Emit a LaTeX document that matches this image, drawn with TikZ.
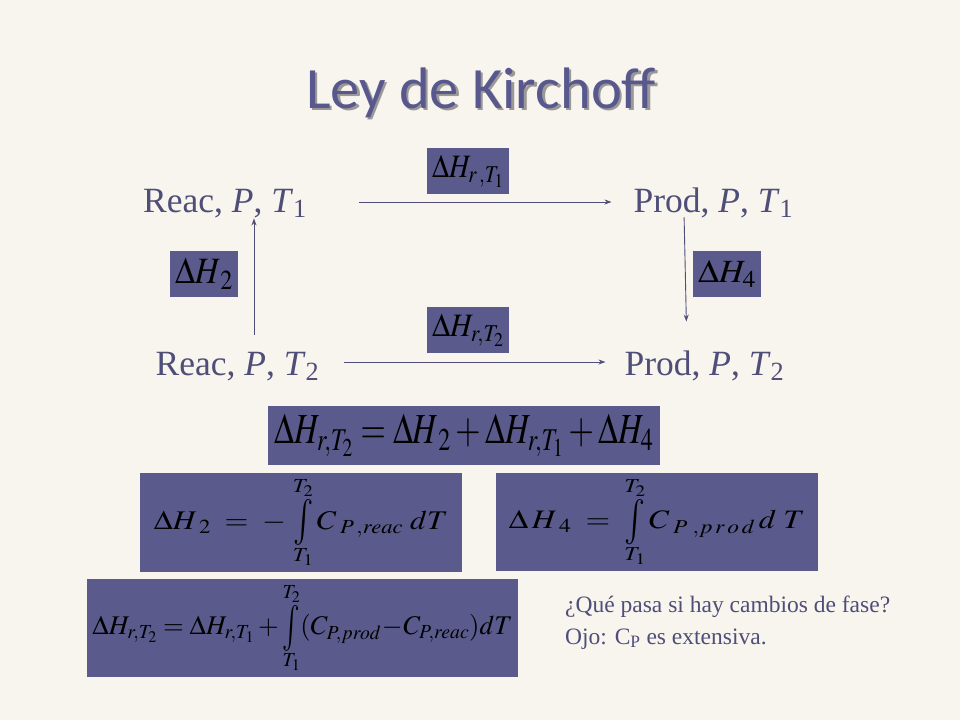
\documentclass[tikz,border=0pt]{standalone}
\usepackage{mathptmx}
\usepackage{fontspec}
\setmainfont{Liberation Serif}
\newfontfamily\titlefont{Carlito}
\usetikzlibrary{arrows.meta}
\definecolor{bg}{RGB}{248,244,238}
\definecolor{boxc}{RGB}{90,90,140}
\definecolor{ink}{RGB}{78,78,120}
\definecolor{titlec}{RGB}{88,88,142}
\newcommand\myint[2]{\mathop{\vcenter{\offinterlineskip\halign{\hfil##\hfil\cr$\scriptstyle #2$\cr\noalign{\kern3pt}\scalebox{1.1}[1.7]{$\textstyle\int$}\cr\noalign{\kern3pt}$\scriptstyle #1$\cr}}}}
\begin{document}
\begin{tikzpicture}[x=1pt,y=-1pt,
  lab/.style={inner sep=0pt, text=ink, font=\fontsize{35.5}{40}\selectfont, text height=23.5pt, text depth=0pt},
  eqbox/.style={fill=boxc, inner sep=0pt, text=black, font=\fontsize{30}{34}\selectfont},
  arr/.style={draw=ink, line width=0.9pt, -{Stealth[length=7pt,width=5pt]}},
  note/.style={inner sep=0pt, text=ink, font=\fontsize{23.5}{30}\selectfont, anchor=base west},
  ttl/.style={inner sep=0pt, anchor=base, font=\titlefont\fontsize{58.5}{64}\selectfont}]
\fill[bg] (0,0) rectangle (960,720);
\useasboundingbox (0,0) rectangle (960,720);
% title
\node[ttl, text=black!75, opacity=0.5] (titleshadow) at (483.5,110.5) {Ley de Kirchoff};
\node[ttl, text=titlec] (title) at (481,108) {Ley de Kirchoff};
% cycle labels
\node[lab] (r1) at (225,200.5) {Reac, \textit{P}, \textit{T}\textsubscript{1}};
\node[lab] (p1) at (713.5,200.5) {Prod, \textit{P}, \textit{T}\textsubscript{1}};
\node[lab] (r2) at (237.5,363.5) {Reac, \textit{P}, \textit{T}\textsubscript{2}};
\node[lab] (p2) at (704.5,363.5) {Prod, \textit{P}, \textit{T}\textsubscript{2}};
% arrows
\draw[arr, shorten <=52pt, shorten >=22pt] ([yshift=-1.5pt]r1.east) -- ([yshift=-1.5pt]p1.west);
\draw[arr, shorten <=24pt, shorten >=19pt] ([yshift=1.5pt]r2.east) -- ([yshift=1.5pt]p2.west);
\draw[arr, shorten <=17pt, shorten >=6pt] ([xshift=16.5pt]r2.north) -- ([xshift=29pt]r1.south);
\draw[arr, shorten <=5pt, shorten >=30pt] ([xshift=-29.5pt]p1.south) -- ([xshift=-17.5pt]p2.north);
% small boxes
\node[eqbox, minimum width=82pt, minimum height=46pt] (b1) at (468,171) {\resizebox*{72pt}{32pt}{$\Delta H_{r\,,T_1}$}};
\node[eqbox, minimum width=82pt, minimum height=46pt] (b2) at (468,330) {\resizebox*{72pt}{32pt}{$\Delta H_{r,T_2}$}};
\node[eqbox, minimum width=68pt, minimum height=46pt] (b3) at (204,274) {\resizebox*{58pt}{31pt}{$\Delta H_{\,2}$}};
\node[eqbox, minimum width=68pt, minimum height=46pt] (b4) at (727,274) {\resizebox*{58pt}{27pt}{$\Delta H_4$}};
% equations
\node[eqbox, minimum width=392pt, minimum height=59pt] (e1) at (464,435.5) {\resizebox*{379pt}{42pt}{$\Delta H_{r,T_2} = \Delta H_{\,2} + \Delta H_{r,T_1} + \Delta H_4$}};
\node[eqbox, minimum width=322pt, minimum height=99pt] (e2) at (301,522.5) {\resizebox*{294pt}{85pt}{$\Delta H_{\;2} \;=\; -\,\myint{T_1}{T_2} C_{\;P\,,reac}\; dT$}};
\node[eqbox, minimum width=322pt, minimum height=98pt] (e3) at (657,522) {\resizebox*{296pt}{84pt}{$\Delta\, H_{\;4} \;=\; \myint{T_1}{T_2} C_{\;P\;,p\,r\,o\,d}\, d\;T$}};
\node[eqbox, minimum width=431pt, minimum height=98pt] (e4) at (302.5,628) {\resizebox*{420pt}{85pt}{$\Delta H_{r,T_2} = \Delta H_{r,T_1} + \myint{T_1}{T_2} (C_{P,prod} \!-\! C_{P,reac}) dT$}};
% note
\node[note] (n1) at (565,612) {¿Qué pasa si hay cambios de fase?};
\node[note] (n2) at (565,644) {Ojo: C\textsubscript{P} es extensiva.};
\end{tikzpicture}
\end{document}
